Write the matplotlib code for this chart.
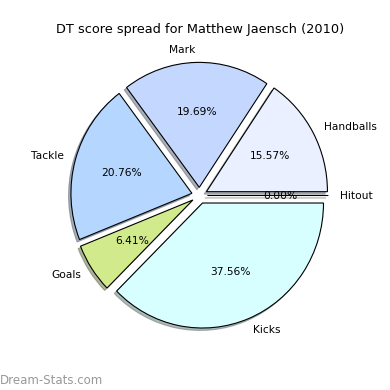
import matplotlib
matplotlib.use("Agg")
import matplotlib.pyplot as plt

# DT points per category (counterclockwise from 3 o'clock)
labels = ["Hitout", "Handballs", "Mark", "Tackle", "Goals", "Kicks"]
points = [0, 102, 129, 136, 42, 246]
colors = ["#c8c8c8", "#eaf0ff", "#c4d8ff", "#b4d6ff", "#d0ea8c", "#d8ffff"]


def main():
    fig = plt.figure(figsize=(3.9, 3.9), dpi=100)
    ax = fig.add_axes([0, 0, 1, 1])
    explode = [0.065] * len(points)
    wedges, texts, autotexts = ax.pie(points, labels=labels, colors=colors,
                                      explode=explode, autopct="%.2f%%",
                                      shadow=dict(ox=-0.014, oy=-0.014, shade=0.55),
                                      startangle=0,
                                      wedgeprops=dict(edgecolor="black", linewidth=0.8),
                                      textprops=dict(fontsize=7.7))
    # pie is slightly taller than wide in the original
    ax.set_aspect("auto")
    ax.set_xlim(-199.5 / 121, 190.5 / 121)
    ax.set_ylim(-194.5 / 125, 195.5 / 125)
    ax.axis("off")
    fig.text(200 / 390, 1 - 30 / 390, "DT score spread for Matthew Jaensch (2010)",
             fontsize=9.3, ha="center", va="center")
    fig.text(0.0, 0.015, "Dream-Stats.com", color="#999999", fontsize=8.5)
    fig.savefig("out.png", dpi=100)
    plt.close()


if __name__ == "__main__":
    main()
